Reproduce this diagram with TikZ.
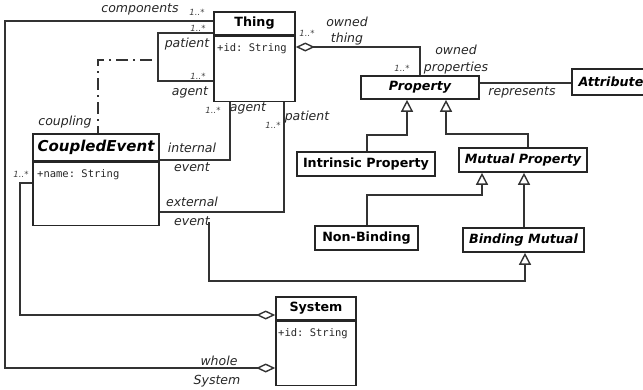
\documentclass[tikz,border=0pt]{standalone}
\usepackage{fontspec}
\setmainfont{DejaVu Sans}
\setmonofont{DejaVu Sans Mono}
\usetikzlibrary{arrows.meta}

\begin{document}
\begin{tikzpicture}[x=1pt,y=-1pt,
  cls/.style={draw=black!85,line width=1.6pt,inner sep=0pt,font=\fontsize{12.7}{14}\selectfont\bfseries},
  abst/.style={cls,font=\fontsize{12.7}{14}\selectfont\bfseries\itshape},
  attr/.style={anchor=west,inner sep=0pt,font=\fontsize{10.5}{12}\selectfont\ttfamily,text=black!85},
  lbl/.style={inner sep=0pt,font=\fontsize{12.5}{14}\selectfont\itshape,text=black!85},
  mult/.style={inner sep=0pt,font=\fontsize{8.5}{10}\selectfont\itshape,text=black!75},
  assoc/.style={line width=1.4pt,draw=black!80},
  agg/.style={assoc,-{Diamond[open,length=19pt,width=9pt]}},
  gen/.style={assoc,-{Triangle[open,length=12pt,width=12pt]}}]

\useasboundingbox (0,0) rectangle (643,389);

% classes
\node[cls,minimum width=81pt,minimum height=23pt] (thing) at (254.5,23.5) {Thing};
\node[cls,minimum width=81pt,minimum height=65pt,anchor=north] (thingbody) at (thing.south) {};
\node[attr] (thingid) at (217,49) {+id: String};

\node[abst,font=\fontsize{15}{17}\selectfont\bfseries\itshape,minimum width=126pt,minimum height=27pt] (cevent) at (96,147.5) {CoupledEvent};
\node[cls,minimum width=126pt,minimum height=63pt,anchor=north] (ceventbody) at (cevent.south) {};
\node[attr] (ceventname) at (37,175) {+name: String};

\node[cls,minimum width=80pt,minimum height=23pt] (system) at (316,308.5) {System};
\node[cls,minimum width=80pt,minimum height=64pt,anchor=north] (systembody) at (system.south) {};
\node[attr] (systemid) at (278,334) {+id: String};

\node[abst,minimum width=118pt,minimum height=23pt] (property) at (420,87.5) {Property};
\node[abst,minimum width=78pt,minimum height=26pt] (attribute) at (611,82) {Attribute};
\node[cls,minimum width=138pt,minimum height=24pt] (intrinsic) at (366,164) {Intrinsic Property};
\node[abst,minimum width=128pt,minimum height=24pt] (mutual) at (523,160) {Mutual Property};
\node[cls,minimum width=103pt,minimum height=24pt] (nonbinding) at (366.5,238) {Non-Binding};
\node[abst,minimum width=121pt,minimum height=24pt] (bmutual) at (523.5,240) {Binding Mutual};

% components / whole System
\draw[agg] (thing.west |- 0,21) -- (5,21) -- (5,368) -- (systembody.west |- 0,368);
\node[lbl] (lcomp) at (140,9) {components};
\node[mult] (mcomp) at (197,12) {1..*};
\node[lbl] (lwhole) at (219,361) {whole};
\node[lbl] (lwsys) at (217,381) {System};

% patient / agent
\draw[assoc] (thing.west |- 0,33) -- (158,33) -- (158,81) -- (thingbody.west |- 0,81);
\node[mult] (mpat) at (198,28) {1..*};
\node[lbl] (lpat) at (187,44) {patient};
\node[mult] (magt) at (198,76) {1..*};
\node[lbl] (lagt) at (190,92) {agent};

% coupling
\coordinate (cplend) at (152,60);
\draw[assoc,dash pattern=on 12pt off 5pt on 2pt off 5pt] (cplend) -- (98,60) -- (cevent.north -| 98,0);
\node[lbl] (lcpl) at (65,122) {coupling};

% internal event
\draw[assoc] (cevent.east |- 0,160) -- (230,160) -- (thingbody.south -| 230,0);
\node[mult] (mint) at (213,110) {1..*};
\node[lbl] (lintag) at (248,108) {agent};
\node[lbl] (lint) at (192,148) {internal};
\node[lbl] (linev) at (192,167) {event};

% external event
\draw[assoc] (ceventbody.east |- 0,212) -- (284,212) -- (thingbody.south -| 284,0);
\node[mult] (mext) at (273,125) {1..*};
\node[lbl] (lextpat) at (307,117) {patient};
\node[lbl] (lext) at (192,202) {external};
\node[lbl] (lexev) at (192,221) {event};
\coordinate (extev) at (209,222);
\draw[gen] (extev) -- (209,281) -- (525,281) -- (bmutual.south -| 525,0);

% events of the system
\draw[agg] (ceventbody.west |- 0,183) -- (20,183) -- (20,315) -- (system.west |- 0,315);
\node[mult] (mcev) at (21,174) {1..*};

% owned
\draw[agg] (property.north -| 420,0) -- (420,47) -- (thingbody.east |- 0,47);
\node[mult] (mthing) at (307,33) {1..*};
\node[lbl] (lown1) at (347,22) {owned};
\node[lbl] (lthing) at (347,39) {thing};
\node[mult] (mprop) at (402,68) {1..*};
\node[lbl] (lown2) at (456,50) {owned};
\node[lbl] (lprops) at (456,68) {properties};

% represents
\draw[assoc] (property.east |- 0,83) -- (attribute.west |- 0,83);
\node[lbl] (lrep) at (522,92) {represents};

% generalisations
\draw[gen] (intrinsic.north -| 367,0) -- (367,135) -- (407,135) -- (property.south -| 407,0);
\draw[gen] (mutual.north -| 528,0) -- (528,134) -- (446,134) -- (property.south -| 446,0);
\draw[gen] (nonbinding.north -| 367,0) -- (367,195) -- (482,195) -- (mutual.south -| 482,0);
\draw[gen] (bmutual.north -| 524,0) -- (mutual.south -| 524,0);

\end{tikzpicture}
\end{document}
